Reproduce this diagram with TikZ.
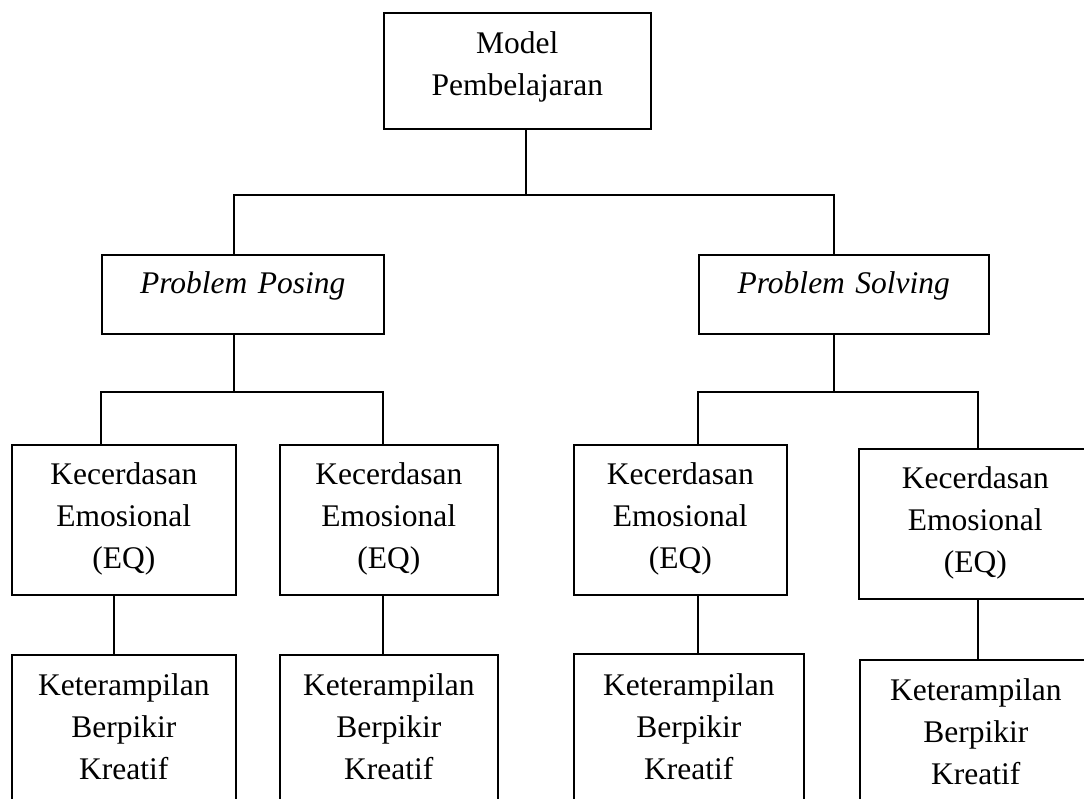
\documentclass[tikz,border=0pt]{standalone}
\usepackage{fontspec}
\setmainfont{Liberation Serif}
\begin{document}
\begin{tikzpicture}[x=1pt,y=-1pt,
  box/.style={draw=black, line width=1.6pt, inner sep=0pt, align=center, anchor=north west,
    font=\fontsize{31.5}{42}\selectfont},
  itbox/.style={box, font=\fontsize{31.5}{42}\selectfont\itshape},
  conn/.style={draw=black, line width=1.5pt}]
\useasboundingbox (0,0) rectangle (1084,798);
\clip (0,0) rectangle (1084,798);
\fill[white] (0,0) rectangle (1084,798);
% level 0
\node[box, text width=267pt, text height=41pt, text depth=75pt] (top) at (383,12) {Model\\Pembelajaran};
% level 1
\node[itbox, text width=282pt, text height=39pt, text depth=40pt] (pp) at (101,254) {Problem Posing};
\node[itbox, text width=290pt, text height=39pt, text depth=40pt] (ps) at (698,254) {Problem Solving};
% level 2
\node[box, text width=224pt, text height=40pt, text depth=110pt] (e1) at (11,444) {Kecerdasan\\Emosional\\(EQ)};
\node[box, text width=218pt, text height=40pt, text depth=110pt] (e2) at (279,444) {Kecerdasan\\Emosional\\(EQ)};
\node[box, text width=213pt, text height=40pt, text depth=110pt] (e3) at (573,444) {Kecerdasan\\Emosional\\(EQ)};
\node[box, text width=233pt, text height=40pt, text depth=110pt] (e4) at (858,448) {Kecerdasan\\Emosional\\(EQ)};
% level 3
\node[box, text width=224pt, text height=41pt, text depth=150pt] (k1) at (11,654) {Keterampilan\\Berpikir\\Kreatif};
\node[box, text width=218pt, text height=41pt, text depth=150pt] (k2) at (279,654) {Keterampilan\\Berpikir\\Kreatif};
\node[box, text width=230pt, text height=42pt, text depth=150pt] (k3) at (573,653) {Keterampilan\\Berpikir\\Kreatif};
\node[box, text width=232pt, text height=41pt, text depth=150pt] (k4) at (859,659) {Keterampilan\\Berpikir\\Kreatif};
% junction coordinates
\coordinate (b0) at (526,195);
\coordinate (b0L) at (234,195);
\coordinate (b0R) at (834,195);
\coordinate (b1) at (234,392);
\coordinate (b1L) at (101,392);
\coordinate (b1R) at (383,392);
\coordinate (b2) at (834,392);
\coordinate (b2L) at (698,392);
\coordinate (b2R) at (978,392);
\coordinate (x1) at (114,0);
\coordinate (x2) at (383,0);
\coordinate (x3) at (698,0);
\coordinate (x4) at (978,0);
% connectors
\draw[conn] (top.south -| b0) -- (b0);
\draw[conn] (pp.north -| b0L) -- (b0L) -- (b0R) -- (ps.north -| b0R);
\draw[conn] (pp.south -| b1) -- (b1);
\draw[conn] (e1.north -| b1L) -- (b1L) -- (b1R) -- (e2.north -| b1R);
\draw[conn] (ps.south -| b2) -- (b2);
\draw[conn] (e3.north -| b2L) -- (b2L) -- (b2R) -- (e4.north -| b2R);
\draw[conn] (e1.south -| x1) -- (k1.north -| x1);
\draw[conn] (e2.south -| x2) -- (k2.north -| x2);
\draw[conn] (e3.south -| x3) -- (k3.north -| x3);
\draw[conn] (e4.south -| x4) -- (k4.north -| x4);
\end{tikzpicture}
\end{document}
